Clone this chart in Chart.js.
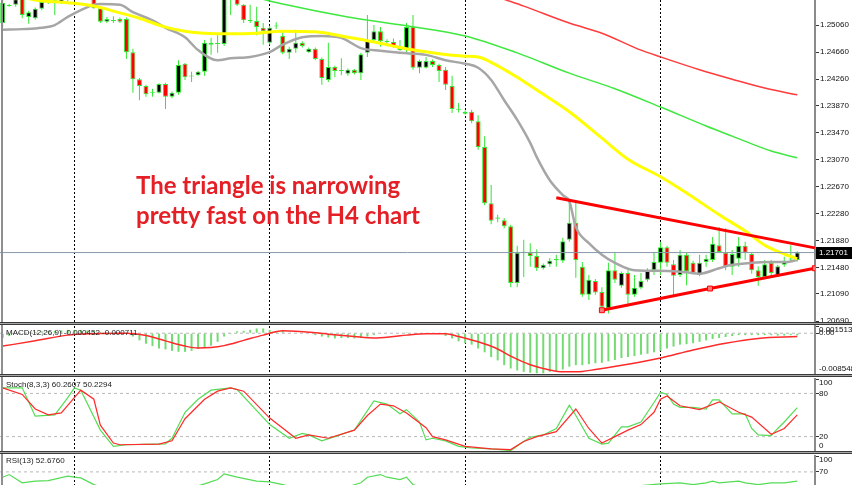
<!DOCTYPE html>
<html>
<head>
<meta charset="utf-8">
<script src="https://cdn.jsdelivr.net/npm/chart.js@4.4.1/dist/chart.umd.min.js"></script>
<style>
  html, body { margin: 0; padding: 0; background: #fff; }
  body { width: 852px; height: 485px; overflow: hidden; position: relative; }
  canvas { position: absolute; left: 0; }
  .sep { position: absolute; left: 0; width: 852px; height: 1px; border-top: 1px solid #3a3a3a; border-bottom: 1px solid #3a3a3a; background: #a8a8a8; }
</style>
</head>
<body>
<canvas id="main" width="852" height="322" style="top:0"></canvas>
<div class="sep" style="top:322px"></div>
<canvas id="macd" width="852" height="49" style="top:325px"></canvas>
<div class="sep" style="top:374px"></div>
<canvas id="stoch" width="852" height="74" style="top:377px"></canvas>
<div class="sep" style="top:451px"></div>
<canvas id="rsi" width="852" height="55" style="top:454px"></canvas>
<script>
// H4 bars, index 0 = leftmost bar on screen
const opens = [
  1.2509,1.2535,1.2536,1.2545,1.2518,1.2516,1.2530,1.2540,1.2542,1.2539,
  1.2546,1.2552,1.2555,1.2550,1.2550,1.2531,1.2511,1.2513,1.2515,1.2515,
  1.2466,1.2426,1.2416,1.2407,1.2406,1.2419,1.2400,1.2406,1.2449,1.2431,
  1.2432,1.2437,1.2480,1.2478,1.2478,1.2548,1.2552,1.2536,1.2513,1.2512,
  1.2502,1.2480,1.2504,1.2490,1.2465,1.2471,1.2480,1.2466,1.2471,1.2456,
  1.2425,1.2444,1.2439,1.2434,1.2440,1.2435,1.2465,1.2484,1.2497,1.2481,
  1.2481,1.2474,1.2469,1.2503,1.2443,1.2443,1.2453,1.2447,1.2440,1.2416,
  1.2382,1.2375,1.2378,1.2364,1.2326,1.2243,1.2222,1.2218,1.2209,1.2125,
  1.2170,1.2170,1.2165,1.2147,1.2153,1.2159,1.2158,1.2189,1.2214,1.2149,
  1.2108,1.2128,1.2112,1.2088,1.2144,1.2121,1.2140,1.2108,1.2118,1.2130,
  1.2144,1.2155,1.2178,1.2153,1.2137,1.2167,1.2155,1.2137,1.2156,1.2159,
  1.2181,1.2170,1.2149,1.2161,1.2180,1.2168,1.2144,1.2134,1.2155,1.2136,
  1.2152,1.2161,1.2159
];
const highs = [
  1.2545,1.2537,1.2548,1.2548,1.2527,1.2532,1.2543,1.2545,1.2547,1.2548,
  1.2556,1.2560,1.2562,1.2558,1.2556,1.2533,1.2518,1.2519,1.2517,1.2517,
  1.2471,1.2428,1.2418,1.2412,1.2420,1.2421,1.2408,1.2454,1.2450,1.2437,
  1.2438,1.2484,1.2487,1.2494,1.2550,1.2560,1.2556,1.2537,1.2536,1.2533,
  1.2509,1.2505,1.2510,1.2496,1.2474,1.2499,1.2482,1.2473,1.2473,1.2458,
  1.2480,1.2446,1.2457,1.2442,1.2441,1.2465,1.2521,1.2506,1.2503,1.2485,
  1.2486,1.2484,1.2509,1.2521,1.2455,1.2459,1.2455,1.2449,1.2444,1.2431,
  1.2391,1.2380,1.2381,1.2373,1.2342,1.2270,1.2226,1.2221,1.2211,1.2180,
  1.2189,1.2184,1.2175,1.2154,1.2162,1.2167,1.2192,1.2248,1.2245,1.2156,
  1.2137,1.2131,1.2119,1.2155,1.2170,1.2142,1.2144,1.2137,1.2140,1.2147,
  1.2171,1.2186,1.2180,1.2159,1.2174,1.2170,1.2158,1.2167,1.2167,1.2193,
  1.2208,1.2206,1.2174,1.2193,1.2186,1.2171,1.2150,1.2159,1.2159,1.2152,
  1.2164,1.2181,1.2172
];
const lows = [
  1.2503,1.2533,1.2533,1.2516,1.2508,1.2514,1.2528,1.2537,1.2521,1.2537,
  1.2541,1.2547,1.2548,1.2544,1.2530,1.2509,1.2509,1.2509,1.2509,1.2456,
  1.2406,1.2395,1.2400,1.2400,1.2405,1.2382,1.2398,1.2403,1.2425,1.2422,
  1.2431,1.2431,1.2462,1.2465,1.2475,1.2521,1.2534,1.2509,1.2509,1.2491,
  1.2477,1.2477,1.2500,1.2463,1.2456,1.2465,1.2473,1.2465,1.2454,1.2418,
  1.2422,1.2429,1.2432,1.2431,1.2433,1.2425,1.2459,1.2481,1.2474,1.2478,
  1.2472,1.2468,1.2465,1.2440,1.2435,1.2442,1.2444,1.2422,1.2410,1.2376,
  1.2377,1.2374,1.2361,1.2322,1.2240,1.2212,1.2215,1.2206,1.2119,1.2119,
  1.2134,1.2149,1.2143,1.2145,1.2149,1.2149,1.2155,1.2186,1.2133,1.2105,
  1.2100,1.2108,1.2088,1.2080,1.2125,1.2118,1.2090,1.2105,1.2116,1.2127,
  1.2137,1.2137,1.2149,1.2105,1.2134,1.2122,1.2138,1.2135,1.2149,1.2156,
  1.2170,1.2144,1.2137,1.2149,1.2159,1.2139,1.2121,1.2133,1.2134,1.2134,
  1.2149,1.2156,1.2157
];
const closes = [
  1.2539,1.2534,1.2544,1.2521,1.2525,1.2530,1.2540,1.2541,1.2541,1.2544,
  1.2552,1.2555,1.2550,1.2553,1.2531,1.2511,1.2515,1.2512,1.2511,1.2466,
  1.2426,1.2416,1.2404,1.2406,1.2419,1.2400,1.2406,1.2447,1.2429,1.2430,
  1.2437,1.2480,1.2477,1.2479,1.2545,1.2552,1.2536,1.2513,1.2512,1.2503,
  1.2497,1.2502,1.2505,1.2465,1.2471,1.2480,1.2475,1.2471,1.2456,1.2428,
  1.2444,1.2438,1.2438,1.2440,1.2435,1.2463,1.2484,1.2497,1.2482,1.2482,
  1.2474,1.2469,1.2503,1.2443,1.2453,1.2453,1.2447,1.2438,1.2418,1.2382,
  1.2381,1.2378,1.2364,1.2326,1.2243,1.2217,1.2220,1.2209,1.2125,1.2170,
  1.2171,1.2165,1.2147,1.2152,1.2158,1.2160,1.2187,1.2214,1.2159,1.2108,
  1.2130,1.2111,1.2090,1.2144,1.2130,1.2140,1.2108,1.2118,1.2128,1.2144,
  1.2156,1.2178,1.2155,1.2136,1.2167,1.2142,1.2140,1.2155,1.2161,1.2183,
  1.2171,1.2149,1.2168,1.2180,1.2170,1.2144,1.2134,1.2153,1.2140,1.2150,
  1.2158,1.2160,1.21701
];
const lastPrice = 1.21701;
const priceTicks = [1.2506, 1.2466, 1.2426, 1.2387, 1.2347, 1.2307, 1.2267, 1.2228, 1.2188, 1.2148, 1.2109, 1.2069];

// moving averages, [bar, price]
const maGray = [[0,1.2499],[3,1.2500],[6,1.2502],[8,1.2506],[10,1.2518],[12,1.2528],[14,1.2536],[15,1.2537],[18,1.2536],[20,1.2525],[23,1.2513],[25,1.2502],[28,1.2488],[30,1.2469],[33,1.2454],[35,1.2457],[38,1.2459],[41,1.2466],[43,1.2477],[46,1.2488],[49,1.2490],[52,1.2487],[55,1.2472],[58,1.2468],[61,1.2465],[65,1.2462],[68,1.2454],[71,1.2449],[73,1.2443],[75,1.2425],[77,1.2395],[79,1.2366],[81,1.2332],[82,1.2311],[84,1.2277],[86,1.2255],[87,1.2246],[88,1.2208],[90,1.2184],[92,1.2167],[94,1.2155],[97,1.2144],[102,1.2143],[105,1.2141],[107,1.2139],[110,1.2147],[112,1.2152],[115,1.2155],[118,1.2156],[120,1.2156],[122,1.2159]];
const maYellow = [[0,1.2555],[5,1.2543],[10,1.2539],[14,1.2534],[18,1.2524],[21,1.2516],[25,1.2503],[28,1.2497],[31,1.2494],[35,1.2493],[39,1.2494],[43,1.2497],[48,1.2496],[53,1.2488],[57,1.2481],[62,1.2471],[66,1.2465],[71,1.2460],[73,1.2459],[75,1.2451],[79,1.2429],[82,1.2410],[87,1.2378],[92,1.2339],[96,1.2308],[101,1.2282],[105,1.2258],[110,1.2226],[114,1.2202],[117,1.2181],[120,1.2168],[122,1.2161]];
const maGreen = [[40,1.2544],[43,1.2537],[53,1.2518],[62,1.2505],[71,1.2490],[79,1.2465],[87,1.2435],[94,1.2412],[101,1.2385],[108,1.2357],[112,1.2342],[118,1.2320],[122,1.2310]];
const maRed = [[77,1.2544],[80,1.2534],[87,1.2509],[92,1.2494],[98,1.2469],[101,1.2459],[107,1.2440],[112,1.2426],[117,1.2413],[122,1.2403]];

// triangle trend lines
const triTop = [[85,1.2251],[124.7,1.2177]];
const triBottom = [[92,1.2085],[108.6,1.2117],[124.7,1.2147]];

// MACD(12,26,9)
const macdHist = [
  -0.0010,-0.0006,-0.0002,0.0001,0.0002,0.0003,0.0004,0.0005,0.0005,0.0006,
  0.0007,0.0007,0.0007,0.0006,0.0005,0.0003,0.0002,0.0001,0.0000,-0.0001,
  -0.0007,-0.0015,-0.0022,-0.0027,-0.0032,-0.0034,-0.0037,-0.0039,-0.0039,-0.0037,
  -0.0033,-0.0029,-0.0026,-0.0018,-0.0007,-0.0002,0.0004,0.0005,0.0007,0.0010,
  0.0010,0.0007,0.0004,0.0005,0.0001,0.0000,0.0000,-0.0001,-0.0004,-0.0007,
  -0.0009,-0.0011,-0.0010,-0.0010,-0.0011,-0.0010,-0.0007,-0.0004,-0.0001,0.0000,
  0.0001,0.0001,0.0002,0.0000,0.0000,0.0000,-0.0001,-0.0002,-0.0006,-0.0011,
  -0.0017,-0.0021,-0.0024,-0.0032,-0.0040,-0.0050,-0.0057,-0.0067,-0.0074,-0.0078,
  -0.0081,-0.0083,-0.0084,-0.0084,-0.0081,-0.0079,-0.0076,-0.0070,-0.0067,-0.0067,
  -0.0065,-0.0063,-0.0062,-0.0059,-0.0056,-0.0052,-0.0050,-0.0048,-0.0045,-0.0043,
  -0.0040,-0.0037,-0.0032,-0.0028,-0.0024,-0.0023,-0.0021,-0.0018,-0.0015,-0.0012,
  -0.0010,-0.0008,-0.0006,-0.0004,-0.0004,-0.0004,-0.0004,-0.0004,-0.0004,-0.0005,
  -0.0005,-0.0004,-0.00045
];
const macdSignal = [[0,-0.0027],[5,-0.0016],[10,-0.0004],[14,-0.0001],[19,0.0000],[22,-0.0005],[25,-0.0016],[28,-0.0027],[30,-0.0031],[32,-0.0030],[34,-0.0026],[37,-0.0015],[40,-0.0004],[43,0.0005],[48,0.0001],[50,-0.0002],[54,-0.0007],[57,-0.0010],[60,-0.0007],[62,-0.0004],[65,-0.0001],[68,-0.0001],[70,-0.0007],[73,-0.0018],[76,-0.0033],[78,-0.0048],[81,-0.0066],[84,-0.0077],[86,-0.0081],[89,-0.0080],[91,-0.0076],[96,-0.0065],[101,-0.0052],[106,-0.0035],[111,-0.0021],[116,-0.0011],[122,-0.00071]];
const macdTicks = [0.001513, 0, -0.008548];
const macdTickText = ['0.001513', '0.00', '-0.008548'];

// Stochastic(8,3,3)
const stochK = [[0,87.7],[3,87.7],[5,48.4],[8,50.2],[10,74.1],[11,87.7],[12,84.5],[15,29.0],[17,6.5],[19,8.7],[23,9.6],[25,10.0],[26,17.7],[28,53.8],[30,71.9],[32,84.5],[35,87.7],[36,85.4],[41,36.7],[44,17.7],[46,24.5],[47,22.3],[49,14.1],[51,20.0],[54,29.0],[57,69.6],[59,65.1],[61,51.6],[62,57.4],[64,40.3],[65,15.5],[66,17.7],[68,14.1],[70,6.5],[72,4.2],[75,2.9],[78,0.6],[80,13.2],[81,19.1],[83,22.3],[85,31.3],[87,63.7],[88,49.3],[90,17.7],[92,9.6],[93,11.0],[95,33.5],[96,33.5],[98,40.3],[100,67.4],[101,81.8],[102,78.6],[103,65.1],[104,60.6],[106,60.6],[108,58.3],[109,71.0],[110,71.0],[112,51.6],[114,51.6],[115,31.3],[116,22.3],[118,21.4],[119,31.3],[120,40.3],[122,60.26]];
const stochD = [[0,87.7],[3,78.6],[5,58.3],[7,50.2],[9,52.9],[11,74.1],[12,84.5],[14,71.9],[15,35.8],[17,11.0],[18,8.7],[24,9.6],[26,14.1],[28,44.8],[31,71.9],[33,83.1],[35,87.7],[37,83.1],[41,45.7],[45,17.7],[47,22.3],[50,17.7],[54,29.0],[56,49.3],[58,65.1],[60,62.8],[62,52.9],[65,32.4],[66,20.0],[68,15.5],[71,6.5],[75,2.9],[78,2.0],[80,13.2],[82,20.0],[85,26.8],[88,58.3],[90,31.3],[92,11.0],[94,20.0],[96,29.0],[98,36.7],[100,53.8],[101,71.9],[102,76.4],[104,62.8],[107,57.4],[110,68.3],[113,53.8],[115,47.1],[118,23.2],[120,31.3],[122,50.23]];
const stochTicks = [100, 80, 20, 0];

// RSI(13)
const rsi = [[0,60],[1,65],[3,49.4],[5,52.5],[7,53.7],[10,61.9],[11,60],[12,58.7],[14,46],[16,38],[20,25],[25,30],[29,40],[31,47.5],[33,55.6],[34,66.2],[36,60],[39,52.5],[41,51.2],[43,46],[45,40],[50,36],[53,42],[55,49.4],[56,60],[58,65],[59,60],[61,55.6],[62,60],[63,46],[65,38],[68,34],[72,25],[76,18],[80,28],[84,32],[87,42],[90,33],[94,40],[98,44],[101,47.5],[104,49.4],[106,46],[108,49.4],[109,52.5],[110,49.4],[113,52.5],[114,49.4],[116,46],[118,49.4],[120,49.4],[122,52.68]];
const rsiTicks = [100, 70, 30, 0];

const weekBars = [11, 41, 71, 101];

const X_MIN = -0.41, X_MAX = 124.72;
const GREEN = '#33e633';
const FONT = 'Liberation Sans';
Chart.defaults.font.family = FONT;
Chart.defaults.font.size = 8;

const pts = arr => arr.map(([x, y]) => ({ x, y }));
const line = (data, color, width, extra) => Object.assign({
  type: 'line', data, borderColor: color, borderWidth: width, pointRadius: 0, fill: false, order: 2
}, extra);
const level = v => line([{ x: X_MIN, y: v }, { x: X_MAX, y: v }], '#b8b8b8', 1, { borderDash: [3, 3], order: 9 });

function xAxis() {
  return {
    type: 'linear', min: X_MIN, max: X_MAX, bounds: 'data', offset: false,
    afterBuildTicks: s => { s.ticks = weekBars.map(v => ({ value: v })); },
    ticks: { display: false },
    grid: { color: '#000', lineWidth: 1, drawTicks: false, offset: false },
    border: { display: false, dash: [2, 2] }
  };
}

function yAxis(min, max, marks, fmt) {
  return {
    type: 'linear', position: 'right', min, max, bounds: 'data',
    afterBuildTicks: s => { s.ticks = marks.map(v => ({ value: v })); },
    afterFit: s => { s.width = 37; s.paddingTop = 0; s.paddingBottom = 0; },
    grid: { drawOnChartArea: false, drawTicks: true, tickLength: 4, color: '#333' },
    border: { color: '#8a8a8a', width: 2 },
    ticks: fmt ? { padding: 1, color: '#111', callback: fmt } : { display: false }
  };
}

// MT4 chrome: frame, sub-window captions and scale labels, bid box, comment text
const mt4 = {
  id: 'mt4',
  afterDraw(chart, _args, o) {
    const { ctx, chartArea: a } = chart;
    const y = chart.scales.y;
    ctx.save();
    ctx.fillStyle = '#8f8f8f';
    ctx.fillRect(1, 0, 2, chart.height);
    ctx.textBaseline = 'middle';
    ctx.textAlign = 'left';
    ctx.font = '8px "' + FONT + '"';
    if (o.caption) {
      ctx.fillStyle = '#222';
      ctx.fillText(o.caption, 6, a.top + o.captionDy);
    }
    if (o.levels) {
      ctx.fillStyle = '#111';
      o.levels.forEach((v, i) => {
        const py = Math.min(Math.max(y.getPixelForValue(v), a.top + 4), a.bottom - 5);
        ctx.fillText(o.levelText[i], a.right + 4, py);
      });
    }
    if (o.last) {
      const py = Math.round(y.getPixelForValue(o.last));
      ctx.fillStyle = '#000';
      ctx.fillRect(a.right + 1, py - 6, chart.width - a.right, 12);
      ctx.fillStyle = '#fff';
      ctx.fillText(o.last.toFixed(5), a.right + 4, py);
    }
    if (o.note) {
      ctx.font = 'bold 24px Lato';
      ctx.fillStyle = '#e41f26';
      ctx.textBaseline = 'alphabetic';
      o.note.forEach((t, i) => ctx.fillText(t, o.noteX, o.noteY + i * o.noteGap));
    }
    ctx.restore();
  }
};

function panel(id, datasets, y, padTop, overlay) {
  return new Chart(document.getElementById(id), {
    type: 'bar',
    data: { datasets },
    options: {
      responsive: false, animation: false, events: [], devicePixelRatio: 1,
      layout: { autoPadding: false, padding: { top: padTop, left: 0, right: 0, bottom: 0 } },
      scales: { x: xAxis(), y },
      plugins: { legend: { display: false }, tooltip: { enabled: false }, mt4: overlay }
    },
    plugins: [mt4]
  });
}

const bars = opens.map((_, i) => i);
const bodyColor = i => {
  if (Math.abs(closes[i] - opens[i]) < 0.00012) return GREEN;
  return closes[i] > opens[i] ? '#000000' : '#ff0000';
};

panel('main', [
  line(pts(triTop), '#ff0000', 3, { order: 0 }),
  line(pts(triBottom), '#ff0000', 3, { order: 0, pointStyle: 'rect', pointRadius: 3.5, pointBackgroundColor: '#ff7a7a', pointBorderColor: '#ff0000', pointBorderWidth: 1 }),
  line([{ x: X_MIN, y: lastPrice }, { x: X_MAX, y: lastPrice }], '#8798aa', 1, { order: 1 }),
  line(pts(maRed), '#ff3b3b', 1.5, { cubicInterpolationMode: 'monotone' }),
  line(pts(maGreen), '#3fe83f', 1.5, { cubicInterpolationMode: 'monotone' }),
  line(pts(maYellow), '#ffff00', 3, { cubicInterpolationMode: 'monotone' }),
  line(pts(maGray), '#a6a6a6', 2.5, { cubicInterpolationMode: 'monotone' }),
  {
    data: bars.map(i => ({ x: i, y: [opens[i], closes[i]] })),
    backgroundColor: c => bodyColor(c.dataIndex),
    borderColor: GREEN, borderWidth: 1, borderSkipped: false,
    barThickness: 5, minBarLength: 1, grouped: false, inflateAmount: 0, order: 7
  },
  {
    data: bars.map(i => ({ x: i, y: [lows[i], highs[i]] })),
    backgroundColor: GREEN, barThickness: 1, grouped: false, inflateAmount: 0, order: 8
  }
], yAxis(1.20676, 1.25430, priceTicks, v => v.toFixed(5)), 0, {
  last: lastPrice,
  note: ['The triangle is narrowing', 'pretty fast on the H4 chart'],
  noteX: 136, noteY: 193.5, noteGap: 30.5
});

panel('macd', [
  level(0),
  line(pts(macdSignal), '#ff2a2a', 1.5, { order: 1, cubicInterpolationMode: 'monotone' }),
  {
    data: macdHist.map((v, i) => ({ x: i, y: v })),
    backgroundColor: '#72dc72', barThickness: 2, grouped: false, inflateAmount: 0, order: 5
  }
], yAxis(-0.008548, 0.001513, macdTicks), 1, {
  caption: 'MACD(12,26,9) -0.000452 -0.000711', captionDy: 7,
  levels: macdTicks, levelText: macdTickText
});

panel('stoch', [
  level(80), level(20),
  line(pts(stochD), '#ff2a2a', 1.2, { order: 1 }),
  line(pts(stochK), '#55dc55', 1.2, { order: 2 })
], yAxis(0, 100, stochTicks), 2, {
  caption: 'Stoch(8,3,3) 60.2607 50.2294', captionDy: 6,
  levels: stochTicks, levelText: stochTicks.map(String)
});

panel('rsi', [
  level(70), level(30),
  line(pts(rsi), '#55dc55', 1.2, { order: 1 })
], yAxis(0, 100, rsiTicks), 2, {
  caption: 'RSI(13) 52.6760', captionDy: 5,
  levels: rsiTicks, levelText: rsiTicks.map(String)
});
</script>
</body>
</html>
